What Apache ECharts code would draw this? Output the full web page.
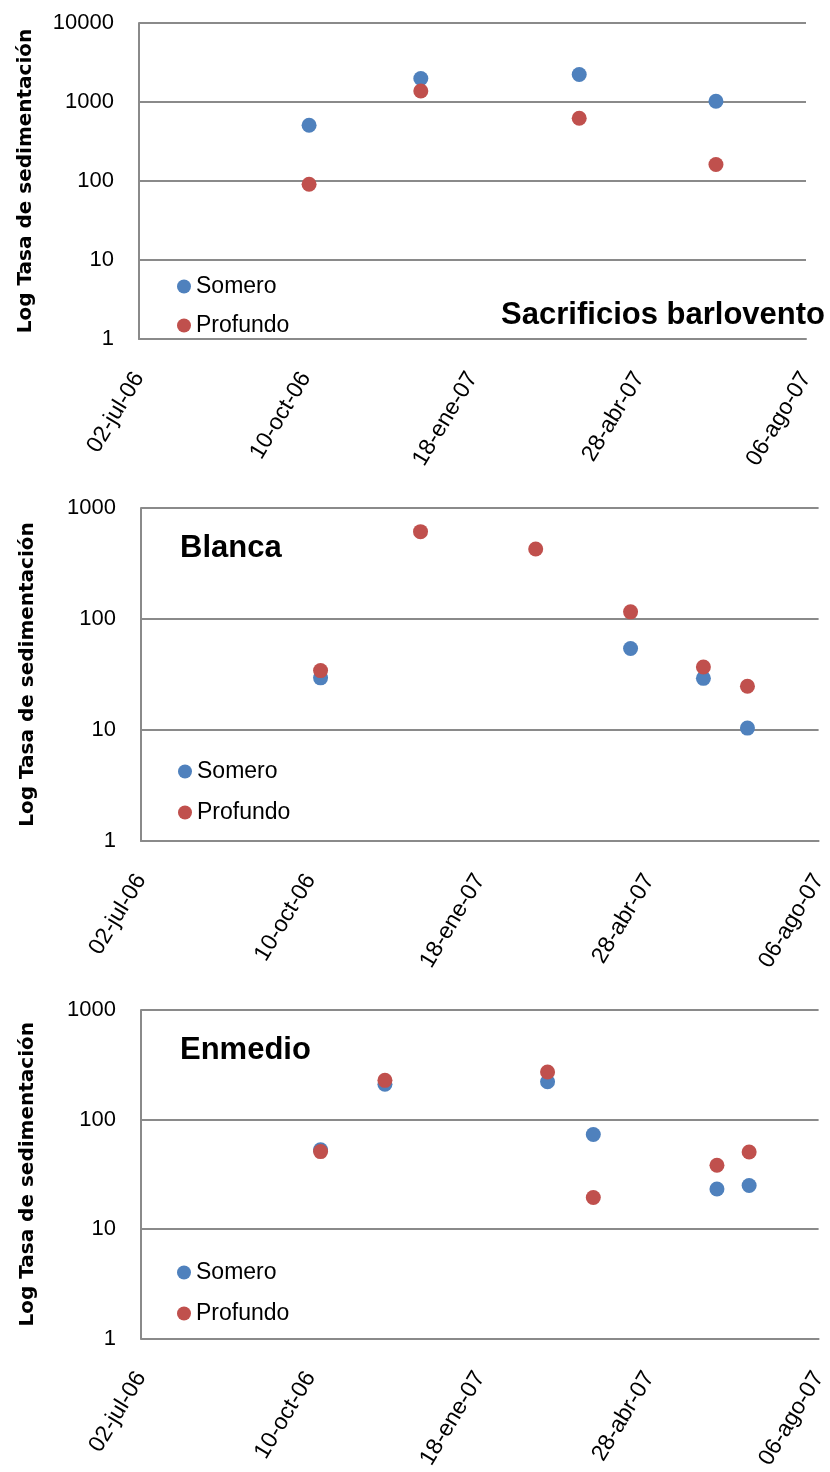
<!DOCTYPE html>
<html>
<head>
<meta charset="utf-8">
<script src="https://cdn.jsdelivr.net/npm/echarts@6/dist/echarts.min.js"></script>
<style>
html,body{margin:0;padding:0;background:#fff;}
#c{width:830px;height:1472px;}
</style>
</head>
<body>
<div id="c"></div>
<script>
// ---- data ----
const monthNames = ['ene','feb','mar','abr','may','jun','jul','ago','sep','oct','nov','dic'];
const xStart = '2006-07-02';
const xEnd = '2007-08-06';
const xStepDays = 100;

const panelTitles = ['Sacrificios barlovento', 'Blanca', 'Enmedio'];
const seriesNames = ['Somero', 'Profundo'];
const yAxisName = 'Log Tasa de sedimentación';
const yMaxes = [10000, 1000, 1000];

// Sacrificios barlovento
const sacDates = ['2006-10-12', '2006-12-18', '2007-03-23', '2007-06-13'];
const sacSomero = [507, 1985, 2230, 1020];
const sacProfundo = [91, 1380, 622, 162];

// Blanca
const blaSomeroDates = ['2006-10-16', '2007-04-17', '2007-05-30', '2007-06-25'];
const blaSomero = [29.5, 54.3, 29.2, 10.4];
const blaProfundoDates = ['2006-10-16', '2006-12-14', '2007-02-20', '2007-04-17', '2007-05-30', '2007-06-25'];
const blaProfundo = [34.3, 612, 427, 116, 36.9, 24.8];

// Enmedio
const enmDates = ['2006-10-16', '2006-11-23', '2007-02-27', '2007-03-26', '2007-06-07', '2007-06-26'];
const enmSomero = [53, 210, 221, 73, 23.2, 25];
const enmProfundo = [51, 228, 272, 19.4, 38.3, 50.6];

// ---- helpers ----
function toMs(s) { const p = s.split('-').map(Number); return Date.UTC(p[0], p[1] - 1, p[2]); }
function pairs(dates, vals) { return dates.map((d, i) => [toMs(d), vals[i]]); }
function fmtDate(v) {
  const d = new Date(v);
  const dd = String(d.getUTCDate()).padStart(2, '0');
  const yy = String(d.getUTCFullYear() % 100).padStart(2, '0');
  return dd + '-' + monthNames[d.getUTCMonth()] + '-' + yy;
}
function fmtNum(v) { return String(Math.round(v)); }

const DAY = 86400000;
const gridLayout = [
  { left: 139, right: 24, top: 23, height: 316 },
  { left: 141, right: 9, top: 508, height: 333 },
  { left: 141, right: 9, top: 1010, height: 331 }
];
const legendLayout = [
  { left: 177, top: 275, itemGap: 16 },
  { left: 178, top: 760, itemGap: 18 },
  { left: 177, top: 1261, itemGap: 18 }
];
const colors = ['#4F81BD', '#C0504D'];
const gray = '#8a8a8a';
const numFont = 'Liberation Sans';

const panelData = [
  [pairs(sacDates, sacSomero), pairs(sacDates, sacProfundo)],
  [pairs(blaSomeroDates, blaSomero), pairs(blaProfundoDates, blaProfundo)],
  [pairs(enmDates, enmSomero), pairs(enmDates, enmProfundo)]
];

const xAxes = gridLayout.map((g, i) => ({
  type: 'value', gridIndex: i,
  min: toMs(xStart), max: toMs(xEnd), interval: xStepDays * DAY,
  axisLine: { show: true, lineStyle: { color: gray, width: 2 } },
  axisTick: { show: false },
  splitLine: { show: false },
  axisLabel: {
    formatter: fmtDate, rotate: 59, margin: 35,
    fontSize: 23, color: '#000', fontFamily: numFont
  }
}));
const yAxes = gridLayout.map((g, i) => ({
  type: 'log', logBase: 10, gridIndex: i, min: 1, max: yMaxes[i],
  name: yAxisName, nameLocation: 'middle', nameGap: 103,
  nameTextStyle: { fontSize: 20, fontWeight: 'bold', fontFamily: 'DejaVu Sans', color: '#000' },
  axisLine: { show: true, lineStyle: { color: gray, width: 2 } },
  axisTick: { show: false },
  splitLine: { show: true, lineStyle: { color: gray, width: 2 } },
  axisLabel: { formatter: fmtNum, fontSize: 22, color: '#000', fontFamily: numFont, margin: 25 }
}));

const series = [];
panelData.forEach((pd, i) => {
  pd.forEach((d, j) => {
    series.push({
      type: 'scatter', name: seriesNames[j], xAxisIndex: i, yAxisIndex: i,
      data: d, symbol: 'circle', symbolSize: 15,
      itemStyle: { color: colors[j], opacity: 1 }
    });
  });
});

const legends = legendLayout.map(l => ({
  orient: 'vertical', left: l.left, top: l.top, itemGap: l.itemGap, padding: 0,
  data: seriesNames, icon: 'circle', itemWidth: 14, itemHeight: 14,
  selectedMode: false,
  textStyle: { fontSize: 23, color: '#000', fontFamily: numFont }
}));

const titleStyle = { fontSize: 31, fontWeight: 'bold', color: '#000', fontFamily: numFont };
const titles = [
  { text: panelTitles[0], right: 5, top: 300, padding: 0, textStyle: titleStyle },
  { text: panelTitles[1], left: 180, top: 533, padding: 0, textStyle: titleStyle },
  { text: panelTitles[2], left: 180, top: 1035, padding: 0, textStyle: titleStyle }
];

const chart = echarts.init(document.getElementById('c'), null, { renderer: 'canvas' });
chart.setOption({
  animation: false,
  backgroundColor: '#fff',
  color: colors,
  title: titles,
  legend: legends,
  grid: gridLayout,
  xAxis: xAxes,
  yAxis: yAxes,
  series: series
});
</script>
</body>
</html>
